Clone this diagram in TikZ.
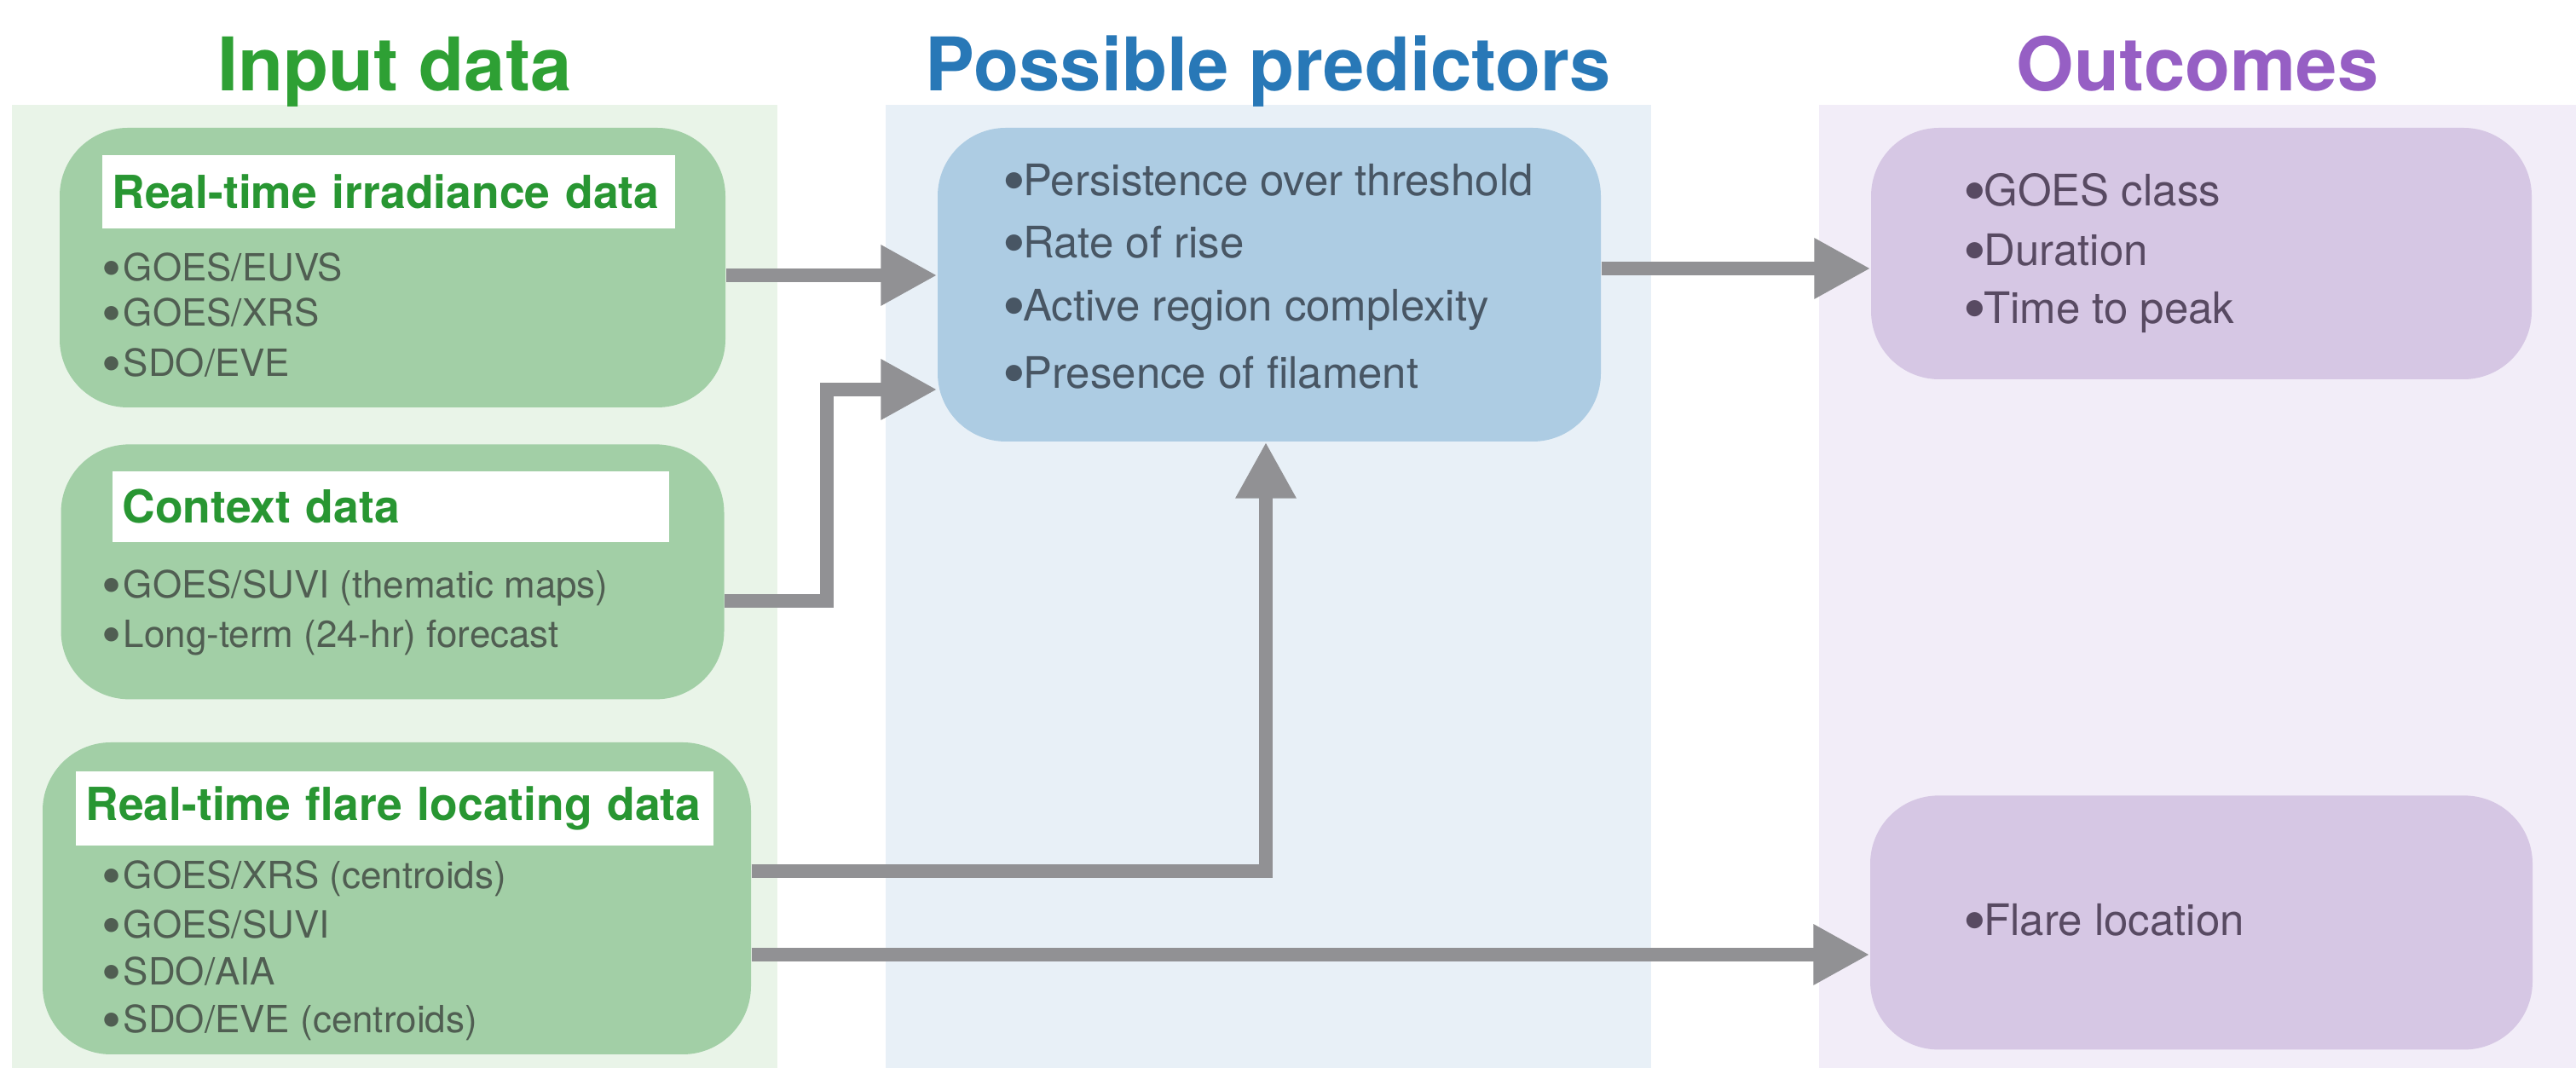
\documentclass[tikz,border=0pt]{standalone}
\usepackage{fontspec}
\setmainfont{TeX Gyre Heros}
\usetikzlibrary{arrows.meta,positioning}

\definecolor{titlegreen}{RGB}{46,160,52}
\definecolor{titleblue}{RGB}{40,120,183}
\definecolor{titlepurple}{RGB}{150,95,196}
\definecolor{taggreen}{RGB}{40,150,50}
\definecolor{greenpanel}{RGB}{233,244,232}
\definecolor{bluepanel}{RGB}{232,240,247}
\definecolor{purplepanel}{RGB}{242,237,248}
\definecolor{boxgreen}{RGB}{162,207,166}
\definecolor{boxblue}{RGB}{173,204,227}
\definecolor{boxpurple}{RGB}{214,199,228}
\definecolor{ingray}{RGB}{80,94,82}
\definecolor{predgray}{RGB}{72,86,100}
\definecolor{outgray}{RGB}{88,74,98}
\definecolor{arrowgray}{RGB}{145,145,148}

% a larger bullet, sitting a little lower
\newcommand{\bigdot}{\smash{\raisebox{-0.17em}{\scalebox{1.5}{\textbullet}}}}

\tikzset{
    heading/.style={anchor=base, inner sep=0pt, font=\fontsize{24.7}{30}\selectfont\bfseries}, % column titles
    databox/.style={rounded corners=8mm, inner sep=0pt, draw=none}, % the rounded boxes
    tag/.style={fill=white, anchor=west, align=left, inner xsep=1.2mm, inner ysep=0pt, text=taggreen, font=\fontsize{15.2}{18}\selectfont\bfseries}, % white title strips
    initem/.style={anchor=base west, inner sep=0pt, text=ingray, font=\fontsize{12.5}{15}\selectfont}, % input bullets
    outitem/.style={anchor=base west, inner sep=0pt, font=\fontsize{14.5}{17}\selectfont}, % predictor and outcome bullets
    flow/.style={-{Triangle[length=6.6mm,width=6.7mm]}, line width=1.6mm, draw=arrowgray}, % thick grey arrows
}

\begin{document}
\begin{tikzpicture}
  \useasboundingbox (0,0) rectangle (30.22,12.53);
  % column panels
  \fill[greenpanel] (0.14,0) rectangle (9.12,11.30);
  \fill[bluepanel] (10.39,0) rectangle (19.37,11.30);
  \fill[purplepanel] (21.34,0) rectangle (30.22,11.30);

  \node[heading,text=titlegreen] (hin) at (4.63,11.46) {Input data};
  \node[heading,text=titleblue] (hpred) at (14.88,11.46) {Possible predictors};
  \node[heading,text=titlepurple] (hout) at (25.78,11.46) {Outcomes};

  % input boxes
  \node[databox,fill=boxgreen,minimum width=7.81cm,minimum height=3.28cm] (irr) at (4.605,9.39) {};
  \node[databox,fill=boxgreen,minimum width=7.78cm,minimum height=2.99cm,below=4.2mm of irr] (ctx) {};
  \node[databox,fill=boxgreen,minimum width=8.31cm,minimum height=3.66cm] (flare) at (4.655,1.99) {};

  \node[databox,fill=boxblue,minimum width=7.78cm,minimum height=3.68cm] (pred) at (14.89,9.19) {};

  \node[databox,fill=boxpurple,minimum width=7.75cm,minimum height=2.95cm] (outc) at (25.825,9.555) {};
  \node[databox,fill=boxpurple,minimum width=7.77cm,minimum height=2.98cm,below=4.87cm of outc] (loc) {};

  \node[tag,text width=6.48cm,minimum height=8.6mm] (irrtag) at (1.19,10.28) {\mbox{Real-time irradiance data}};
  \node[tag,text width=6.29cm,minimum height=8.3mm] (ctxtag) at (1.31,6.585) {\mbox{Context data}};
  \node[tag,text width=7.24cm,minimum height=8.7mm] (flaretag) at (0.88,3.045) {\mbox{Real-time flare locating data}};

  \foreach \y/\txt [count=\i] in {9.23/{GOES/EUVS}, 8.70/{GOES/XRS}, 8.11/{SDO/EVE}}
    \node[initem] (irr-\i) at (1.19,\y) {\bigdot\hspace{0.05em}\txt};
  \foreach \y/\txt [count=\i] in {5.51/{GOES/SUVI (thematic maps)}, 4.93/{Long-term (24-hr) forecast}}
    \node[initem] (ctx-\i) at (1.19,\y) {\bigdot\hspace{0.05em}\txt};
  \foreach \y/\txt [count=\i] in {2.10/{GOES/XRS (centroids)}, 1.52/{GOES/SUVI}, 0.97/{SDO/AIA}, 0.41/{SDO/EVE (centroids)}}
    \node[initem] (flare-\i) at (1.19,\y) {\bigdot\hspace{0.05em}\txt};

  \foreach \y/\txt [count=\i] in {10.23/{Persistence over threshold}, 9.50/{Rate of rise}, 8.76/{Active region complexity}, 7.97/{Presence of filament}}
    \node[outitem,text=predgray] (pred-\i) at (11.76,\y) {\bigdot\hspace{-0.06em}\txt};

  \foreach \y/\txt [count=\i] in {10.11/{GOES class}, 9.41/{Duration}, 8.73/{Time to peak}}
    \node[outitem,text=outgray] (outc-\i) at (23.03,\y) {\bigdot\hspace{-0.06em}\txt};
  \node[outitem,text=outgray] (loc-1) at (23.03,1.55) {\bigdot\hspace{-0.06em}Flare location};

  % connectors
  \coordinate (a1) at ([yshift=-0.9mm]irr.east);
  \coordinate (a2) at ([yshift=-3.45mm]ctx.east);
  \coordinate (bend) at (9.70,7.96);
  \coordinate (a3) at ([yshift=3.2mm]flare.east);
  \coordinate (a4) at ([yshift=-6.6mm]flare.east);
  \coordinate (a5) at ([yshift=1.9mm]pred.east);
  \draw[flow] (a1) -- (a1 -| pred.west);
  \draw[flow] (a2) -| (bend) -- (bend -| pred.west);
  \draw[flow] (a3) -| ([xshift=-0.4mm]pred.south);
  \draw[flow] (a4) -- (a4 -| loc.west);
  \draw[flow] (a5) -- (a5 -| outc.west);
\end{tikzpicture}
\end{document}
